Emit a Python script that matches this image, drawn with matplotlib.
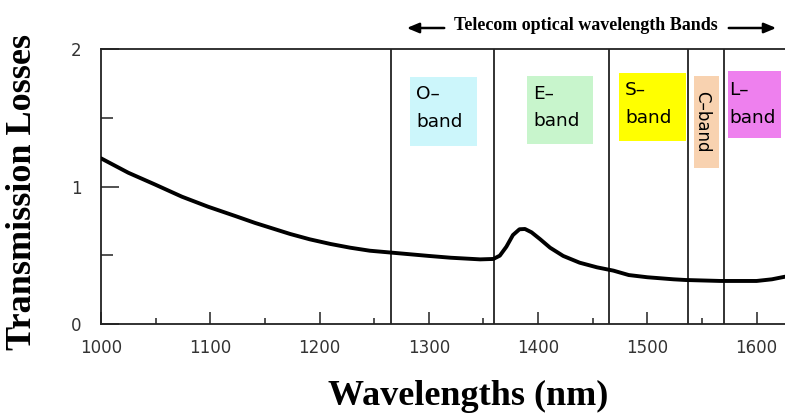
import matplotlib
matplotlib.use("Agg")
import matplotlib.pyplot as plt
from matplotlib.patches import Rectangle, FancyArrowPatch
from matplotlib.ticker import MultipleLocator

# ---- data ----
wavelength = [1000, 1025, 1049, 1074, 1098, 1123, 1141, 1155, 1173, 1191,
              1210, 1228, 1246, 1266, 1283, 1300, 1320, 1347, 1359, 1365,
              1371, 1377, 1383, 1388, 1394, 1402, 1411, 1423, 1438, 1454,
              1469, 1483, 1500, 1524, 1535, 1567, 1600, 1614, 1626]
loss = [1.205, 1.10, 1.016, 0.926, 0.853, 0.785, 0.735, 0.70, 0.655, 0.616,
        0.582, 0.555, 0.533, 0.519, 0.507, 0.495, 0.482, 0.47, 0.473, 0.497,
        0.562, 0.647, 0.689, 0.691, 0.667, 0.616, 0.555, 0.495, 0.446, 0.412,
        0.388, 0.356, 0.34, 0.325, 0.32, 0.313, 0.313, 0.325, 0.344]

band_edges = [1265, 1360, 1465, 1537, 1570]
band_names = ["O", "E", "S", "C", "L"]
band_colors = ["#ccf6fb", "#c8f5cc", "#ffff00", "#f8d2b0", "#ee80ee"]
xticks = [1000, 1100, 1200, 1300, 1400, 1500, 1600]
yticks = [0, 1, 2]
title_text = "Telecom optical wavelength Bands"
xlabel = "Wavelengths (nm)"
ylabel = "Transmission Losses"

# box layout (x0, x1, y0, y1) in data units
box_layout = [(1283, 1344, 1.297, 1.794),
              (1390, 1450, 1.307, 1.804),
              (1474, 1535, 1.331, 1.828),
              (1543, 1566, 1.137, 1.804),
              (1574, 1622, 1.355, 1.840)]
# label layout (x, y_first_line, y_second_line)
label_layout = [(1288.6, 1.634, 1.435),
                (1395.7, 1.636, 1.440),
                (1479.6, 1.665, 1.462),
                (1550.6, 1.473, None),
                (1575.2, 1.665, 1.462)]

fig = plt.figure(figsize=(7.85, 4.17), dpi=100)
ax = fig.add_axes([101 / 785, 1 - 324 / 417, 1 - 101 / 785, (324 - 49) / 417])

ax.set_xlim(1000, 1626)
ax.set_ylim(0, 2)

for xe in band_edges:
    ax.axvline(xe, color="#222222", lw=1.3, zorder=1)

ax.plot(wavelength, loss, color="black", lw=2.8, solid_capstyle="round",
        solid_joinstyle="round", zorder=3)

for (x0, x1, y0, y1), col in zip(box_layout, band_colors):
    ax.add_patch(Rectangle((x0, y0), x1 - x0, y1 - y0, facecolor=col,
                           edgecolor="none", zorder=2))

for name, (lx, ly1, ly2) in zip(band_names, label_layout):
    if ly2 is None:
        ax.text(lx, ly1, name + "\u2013band", rotation=-90, ha="center", va="center",
                fontsize=12, color="black", family="DejaVu Sans", zorder=4)
    else:
        ax.text(lx, ly1, name + "\u2013", ha="left", va="baseline",
                fontsize=13.3, color="black", family="DejaVu Sans", zorder=4)
        ax.text(lx, ly2, "band", ha="left", va="baseline",
                fontsize=13.3, color="black", family="DejaVu Sans", zorder=4)

ax.spines["right"].set_visible(False)
for s in ["left", "bottom", "top"]:
    ax.spines[s].set_color("#222222")
    ax.spines[s].set_linewidth(1.3)

ax.set_xticks(xticks)
ax.set_yticks(yticks)
ax.xaxis.set_minor_locator(MultipleLocator(50))
ax.yaxis.set_minor_locator(MultipleLocator(0.5))
ax.tick_params(axis="x", which="major", direction="in", length=8.5, width=1.2,
               color="#333333", labelsize=12, labelcolor="#333333", pad=11)
ax.tick_params(axis="x", which="minor", direction="in", length=4.3, width=1.2,
               color="#333333")
ax.tick_params(axis="y", which="major", direction="in", length=13, width=1.2,
               color="#333333", labelsize=12, labelcolor="#333333", pad=14)
ax.tick_params(axis="y", which="minor", direction="in", length=8.6, width=1.2,
               color="#333333")
ax.set_xticklabels([str(v) for v in xticks])
ax.set_yticklabels([str(v) for v in yticks])

fig.text(23 / 785, 1 - 192 / 417, ylabel, rotation=90, ha="center", va="center",
         fontsize=26, fontweight="bold", family="Liberation Serif")
fig.text(468 / 785, 1 - 396 / 417, xlabel, ha="center", va="center",
         fontsize=26, fontweight="bold", family="Liberation Serif")
fig.text(586 / 785, 1 - 25 / 417, title_text, ha="center", va="center",
         fontsize=13, fontweight="bold", family="Liberation Serif")

arrow_kw = dict(arrowstyle="-|>,head_length=0.6,head_width=0.25", color="black", lw=1.8)
fig.add_artist(FancyArrowPatch(
    (447 / 785, 1 - 28 / 417), (404 / 785, 1 - 28 / 417),
    transform=fig.transFigure, mutation_scale=12, **arrow_kw))
fig.add_artist(FancyArrowPatch(
    (726 / 785, 1 - 28 / 417), (779 / 785, 1 - 28 / 417),
    transform=fig.transFigure, mutation_scale=12, **arrow_kw))

fig.savefig("out.png", dpi=100, facecolor="white")
